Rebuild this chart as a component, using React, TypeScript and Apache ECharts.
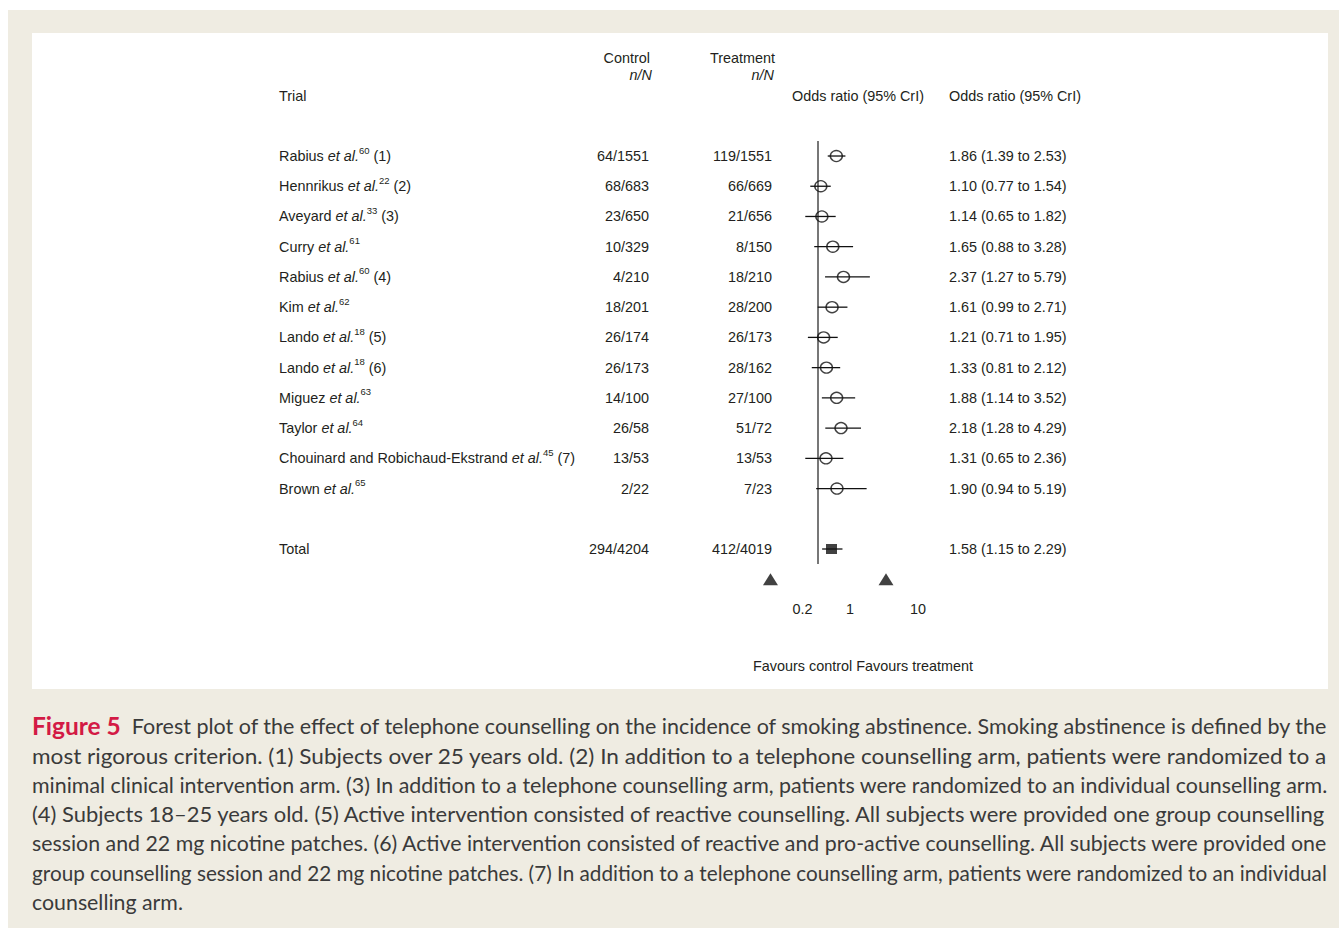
import React, { useEffect, useRef } from 'react';
import * as echarts from 'echarts';

// ---------------- data ----------------
const trialNames = [
  'Rabius', 'Hennrikus', 'Aveyard', 'Curry', 'Rabius', 'Kim',
  'Lando', 'Lando', 'Miguez', 'Taylor', 'Chouinard and Robichaud-Ekstrand', 'Brown',
];
const refNumbers = ['60', '22', '33', '61', '60', '62', '18', '18', '63', '64', '45', '65'];
const trialNotes = ['(1)', '(2)', '(3)', '', '(4)', '', '(5)', '(6)', '', '', '(7)', ''];
const controlNN = ['64/1551', '68/683', '23/650', '10/329', '4/210', '18/201', '26/174', '26/173', '14/100', '26/58', '13/53', '2/22'];
const treatmentNN = ['119/1551', '66/669', '21/656', '8/150', '18/210', '28/200', '26/173', '28/162', '27/100', '51/72', '13/53', '7/23'];
const oddsRatio = [1.86, 1.10, 1.14, 1.65, 2.37, 1.61, 1.21, 1.33, 1.88, 2.18, 1.31, 1.90];
const lowerCrI = [1.39, 0.77, 0.65, 0.88, 1.27, 0.99, 0.71, 0.81, 1.14, 1.28, 0.65, 0.94];
const upperCrI = [2.53, 1.54, 1.82, 3.28, 5.79, 2.71, 1.95, 2.12, 3.52, 4.29, 2.36, 5.19];

const totalName = 'Total';
const totalControl = '294/4204';
const totalTreatment = '412/4019';
const totalOR = [1.58];
const totalLower = [1.15];
const totalUpper = [2.29];

const noEffectValue = 1;
const tickValues = [0.2, 1, 10];
const tickLabels = ['0.2', '1', '10'];
const arrowValues = [0.2, 10];
const favoursText = 'Favours control Favours treatment';

const headerTrial = 'Trial';
const headerControl = ['Control', 'n/N'];
const headerTreatment = ['Treatment', 'n/N'];
const headerOR = 'Odds ratio (95% CrI)';

const captionFigure = 'Figure 5';
const captionLines = [
  'Forest plot of the effect of telephone counselling on the incidence of smoking abstinence. Smoking abstinence is defined by the',
  'most rigorous criterion. (1) Subjects over 25 years old. (2) In addition to a telephone counselling arm, patients were randomized to a',
  'minimal clinical intervention arm. (3) In addition to a telephone counselling arm, patients were randomized to an individual counselling arm.',
  '(4) Subjects 18\u201325 years old. (5) Active intervention consisted of reactive counselling. All subjects were provided one group counselling',
  'session and 22 mg nicotine patches. (6) Active intervention consisted of reactive and pro-active counselling. All subjects were provided one',
  'group counselling session and 22 mg nicotine patches. (7) In addition to a telephone counselling arm, patients were randomized to an individual',
  'counselling arm.',
];

// ---------------- styling ----------------
const FONT = '"Liberation Sans", Arial, Helvetica, sans-serif';
const CAP_FONT = 'Lato, "Open Sans", sans-serif';
const TXT = '#231f20';
const FS = 14.4;
const LH = 22;

const W = 1339;
const H = 928;
const GRID_LEFT = 750;
const GRID_W = 170;
const GRID_TOP = 140.9;
const ROW_H = 30.23;
const N_ROWS = 15;
const X_MIN = -1;
const X_MAX = 1.5;
const LABEL_SHIFT = 32;

function measure(text: string, font: string): number {
  const c = document.createElement('canvas').getContext('2d');
  if (!c) return text.length * 9;
  c.font = font;
  return c.measureText(text).width;
}

function buildOption() {
  const lg = (v: number) => Math.log10(v);
  const nTrials = trialNames.length;
  const totalRow = nTrials + 1;
  const arrowRow = nTrials + 2;

  const rowKeys: string[] = [];
  const nameLabels: string[] = [];
  const ctrlLabels: string[] = [];
  const trtLabels: string[] = [];
  const orLabels: string[] = [];
  const fmtOR = (o: number, l: number, u: number) => `${o.toFixed(2)} (${l.toFixed(2)} to ${u.toFixed(2)})`;

  for (let i = 0; i < nTrials; i++) {
    rowKeys.push('r' + i);
    nameLabels.push(`${trialNames[i]} {it|et al.}{sup|${refNumbers[i]}}${trialNotes[i] ? ' ' + trialNotes[i] : ''}`);
    ctrlLabels.push(controlNN[i]);
    trtLabels.push(treatmentNN[i]);
    orLabels.push(fmtOR(oddsRatio[i], lowerCrI[i], upperCrI[i]));
  }
  rowKeys.push('blank'); nameLabels.push(''); ctrlLabels.push(''); trtLabels.push(''); orLabels.push('');
  rowKeys.push('total'); nameLabels.push(totalName); ctrlLabels.push(totalControl); trtLabels.push(totalTreatment);
  orLabels.push(fmtOR(totalOR[0], totalLower[0], totalUpper[0]));
  rowKeys.push('arrows'); nameLabels.push(''); ctrlLabels.push(''); trtLabels.push(''); orLabels.push('');

  const gridH = ROW_H * N_ROWS;

  const baseY = (labels: string[], extra: any, position = 'left') => ({
    type: 'category',
    gridIndex: 0,
    inverse: true,
    position,
    data: rowKeys,
    axisLine: { show: false, onZero: false },
    axisTick: { show: false },
    splitLine: { show: false },
    axisLabel: {
      interval: 0,
      color: TXT,
      fontFamily: FONT,
      fontSize: FS,
      lineHeight: LH,
      formatter: (_v: string, idx: number) => labels[idx],
      ...extra,
    },
  });

  // caption measurement
  const capSize = Math.max(18, Math.min(23, 20 * 151 / measure('counselling arm.', `20px ${CAP_FONT}`)));
  const figSize = capSize + 3;
  const normalFont = `${capSize}px ${CAP_FONT}`;
  const boldFont = `bold ${figSize}px ${CAP_FONT}`;
  const capLeft = 32;
  const capWidth = 1296;
  const capY0 = 726;
  const capStep = 29.3;

  const captionEls: any[] = captionLines.map((line, i) => {
    const isFirst = i === 0;
    const isLast = i === captionLines.length - 1;
    const text = isFirst ? `{fig|${captionFigure}}  ${line}` : line;
    const natural = isFirst
      ? measure(captionFigure, boldFont) + measure('  ' + line, normalFont)
      : measure(line, normalFont);
    const scaleX = isLast ? 1 : capWidth / natural;
    return {
      type: 'text',
      x: capLeft,
      y: capY0 + i * capStep,
      scaleX,
      style: {
        text,
        fill: '#3a3a3a',
        fontFamily: CAP_FONT,
        fontSize: capSize,
        align: 'left',
        textAlign: 'left',
        verticalAlign: 'middle',
        textVerticalAlign: 'middle',
        rich: {
          fig: {
            fill: '#d31a45',
            fontFamily: CAP_FONT,
            fontSize: figSize,
            fontWeight: 'bold',
          },
        },
      },
      silent: true,
    };
  });

  const headerText = (text: string, x: number, y: number, align: string, italic = false) => ({
    type: 'text',
    x,
    y,
    style: {
      text,
      fill: TXT,
      fontFamily: FONT,
      fontSize: FS,
      fontStyle: italic ? 'italic' : 'normal',
      align,
      textAlign: align,
      verticalAlign: 'middle',
      textVerticalAlign: 'middle',
    },
    silent: true,
  });

  return {
    animation: false,
    backgroundColor: '#ffffff',
    graphic: [
      { type: 'rect', z: -10, shape: { x: 8, y: 10, width: W - 8, height: H - 10 }, style: { fill: '#efece2' }, silent: true },
      { type: 'rect', z: -9, shape: { x: 32, y: 33, width: 1296, height: 656 }, style: { fill: '#ffffff' }, silent: true },
      headerText(headerTrial, 279, 96, 'left'),
      headerText(headerControl[0], 650, 58, 'right'),
      headerText(headerControl[1], 652, 75, 'right', true),
      headerText(headerTreatment[0], 775, 58, 'right'),
      headerText(headerTreatment[1], 774, 75, 'right', true),
      headerText(headerOR, 792, 96, 'left'),
      headerText(headerOR, 949, 96, 'left'),
      ...captionEls,
    ],
    grid: [
      { left: GRID_LEFT, width: GRID_W, top: GRID_TOP, height: gridH },
      { left: GRID_LEFT + LABEL_SHIFT, width: GRID_W, top: GRID_TOP, height: gridH },
    ],
    xAxis: [
      { type: 'value', gridIndex: 0, min: X_MIN, max: X_MAX, show: false },
      {
        type: 'value',
        gridIndex: 1,
        min: X_MIN,
        max: X_MAX,
        position: 'bottom',
        axisLine: { show: false },
        axisTick: { show: false },
        splitLine: { show: false },
        axisLabel: {
          customValues: tickValues.map(lg),
          formatter: (v: number) => {
            const k = tickValues.findIndex((t) => Math.abs(lg(t) - v) < 1e-6);
            return k >= 0 ? tickLabels[k] : '';
          },
          margin: 8,
          color: TXT,
          fontFamily: FONT,
          fontSize: FS,
        },
        name: favoursText,
        nameLocation: 'middle',
        nameGap: 65,
        nameTextStyle: { color: TXT, fontFamily: FONT, fontSize: FS, padding: [0, 8, 0, 0] },
      },
    ],
    yAxis: [
      baseY(nameLabels, {
        align: 'left',
        margin: GRID_LEFT - 279,
        rich: {
          it: { fontStyle: 'italic', fontFamily: FONT, fontSize: FS, color: TXT, lineHeight: LH },
          sup: { fontFamily: FONT, fontSize: 9.5, color: TXT, verticalAlign: 'top', lineHeight: 10 },
        },
      }),
      baseY(ctrlLabels, { align: 'right', margin: GRID_LEFT - 649 }),
      baseY(trtLabels, { align: 'right', margin: GRID_LEFT - 772 }),
      baseY(orLabels, { align: 'left', margin: 949 - (GRID_LEFT + GRID_W) }, 'right'),
      { type: 'value', gridIndex: 1, show: false, min: 0, max: 1 },
    ],
    series: [
      {
        name: 'no effect line',
        type: 'custom',
        xAxisIndex: 0,
        yAxisIndex: 0,
        silent: true,
        z: 1,
        encode: { x: 0, y: [1, 2] },
        data: [[lg(noEffectValue), 0, totalRow]],
        renderItem: (_p: any, api: any) => {
          const a = api.coord([api.value(0), api.value(1)]);
          const b = api.coord([api.value(0), api.value(2)]);
          const h = api.size([0, 1])[1];
          return {
            type: 'line',
            shape: { x1: a[0], y1: a[1] - h / 2, x2: b[0], y2: b[1] + h / 2 },
            style: { stroke: '#4a4a4a', lineWidth: 1.5 },
          };
        },
      },
      {
        name: 'credible intervals',
        type: 'custom',
        xAxisIndex: 0,
        yAxisIndex: 0,
        silent: true,
        z: 2,
        encode: { x: [0, 1], y: 2 },
        data: [
          ...lowerCrI.map((l, i) => [lg(l), lg(upperCrI[i]), i]),
          [lg(totalLower[0]), lg(totalUpper[0]), totalRow],
        ],
        renderItem: (_p: any, api: any) => {
          const a = api.coord([api.value(0), api.value(2)]);
          const b = api.coord([api.value(1), api.value(2)]);
          return {
            type: 'line',
            shape: { x1: a[0], y1: a[1], x2: b[0], y2: b[1] },
            style: { stroke: '#111111', lineWidth: 1.3 },
          };
        },
      },
      {
        name: 'trials',
        type: 'scatter',
        xAxisIndex: 0,
        yAxisIndex: 0,
        z: 3,
        symbol: 'circle',
        symbolSize: [12, 11],
        itemStyle: { color: 'rgba(0,0,0,0)', borderColor: '#111111', borderWidth: 1.4 },
        data: oddsRatio.map((o, i) => [lg(o), i]),
      },
      {
        name: 'total',
        type: 'scatter',
        xAxisIndex: 0,
        yAxisIndex: 0,
        z: 3,
        symbol: 'rect',
        symbolSize: [11, 10],
        itemStyle: { color: '#111111' },
        data: totalOR.map((o) => [lg(o), totalRow]),
      },
      {
        name: 'arrows',
        type: 'scatter',
        xAxisIndex: 0,
        yAxisIndex: 0,
        z: 3,
        symbol: 'triangle',
        symbolSize: [15, 12],
        itemStyle: { color: '#111111' },
        data: arrowValues.map((v) => [lg(v), arrowRow]),
      },
    ],
  };
}

export default function App() {
  const ref = useRef<HTMLDivElement>(null);
  useEffect(() => {
    if (!ref.current) return;
    const chart = echarts.init(ref.current, undefined, { renderer: 'svg' });
    chart.setOption(buildOption() as any);
    return () => chart.dispose();
  }, []);
  return (
    <div
      ref={ref}
      style={{ position: 'fixed', left: 0, top: 0, width: W, height: H, background: '#ffffff' }}
    />
  );
}
